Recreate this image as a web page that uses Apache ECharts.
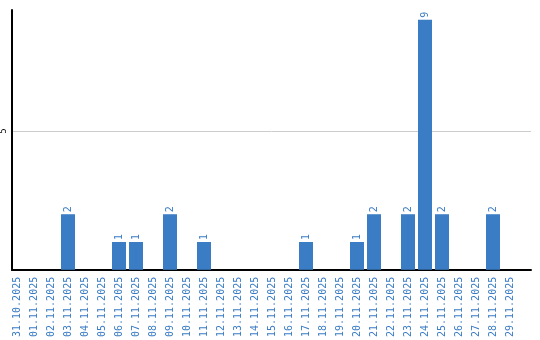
<!DOCTYPE html>
<html><head><meta charset="utf-8">
<script src="https://cdn.jsdelivr.net/npm/echarts@6/dist/echarts.min.js"></script>
<style>html,body{margin:0;padding:0;background:#fff}#c{width:540px;height:340px}</style>
</head><body><div id="c"></div>
<script>
const categories = ["31.10.2025","01.11.2025","02.11.2025","03.11.2025","04.11.2025","05.11.2025","06.11.2025","07.11.2025","08.11.2025","09.11.2025","10.11.2025","11.11.2025","12.11.2025","13.11.2025","14.11.2025","15.11.2025","16.11.2025","17.11.2025","18.11.2025","19.11.2025","20.11.2025","21.11.2025","22.11.2025","23.11.2025","24.11.2025","25.11.2025","26.11.2025","27.11.2025","28.11.2025","29.11.2025"];
const values = [0,0,0,2,0,0,1,1,0,2,0,1,0,0,0,0,0,1,0,0,1,2,0,2,9,2,0,0,2,0];
const yTicks = [5];
const yMax = 9.35;

const chart = echarts.init(document.getElementById('c'), null, {renderer:'canvas'});
chart.setOption({
  animation:false,
  grid:[
    {left:8.5,right:21.5,top:10,bottom:70,containLabel:false},
    {left:11,right:9,top:10,bottom:70,containLabel:false}
  ],
  xAxis:[
    {type:'category',data:categories,gridIndex:0,
      axisLine:{show:false},axisTick:{show:false},
      axisLabel:{rotate:90,interval:0,color:'#3a7cc4',fontFamily:'DejaVu Sans Mono',fontSize:10,margin:7}
    },
    {type:'value',gridIndex:1,min:0,max:1,
      axisLine:{show:true,onZero:false,lineStyle:{color:'#000',width:2}},
      axisTick:{show:false},axisLabel:{show:false},splitLine:{show:false}
    }
  ],
  yAxis:[
    {type:'value',gridIndex:0,min:0,max:yMax,interval:5,show:false},
    {type:'value',gridIndex:1,min:0,max:yMax,interval:5,
      axisLine:{show:true,lineStyle:{color:'#000',width:2}},
      axisTick:{show:false},
      splitLine:{show:false},
      axisLabel:{rotate:90,color:'#000',fontFamily:'DejaVu Sans',fontSize:8,margin:4,
        formatter:v=>yTicks.includes(v)?String(v):'',showMaxLabel:false}
    }
  ],
  series:[
    {type:'line',xAxisIndex:1,yAxisIndex:1,data:[],silent:true,z:0,
      markLine:{silent:true,symbol:'none',label:{show:false},z:0,
        lineStyle:{color:'#cccccc',width:1,type:'solid'},
        data:yTicks.map(t=>({yAxis:t}))}
    },
    {type:'bar',xAxisIndex:0,yAxisIndex:0,data:values.map(v=>v===0?null:v),barWidth:14,z:5,
      itemStyle:{color:'#3a7dc4'},
      label:{show:true,position:'top',rotate:90,align:'left',verticalAlign:'middle',distance:2,
        color:'#3a7cc4',fontFamily:'DejaVu Sans Mono',fontSize:10}
    }
  ]
});
</script></body></html>
